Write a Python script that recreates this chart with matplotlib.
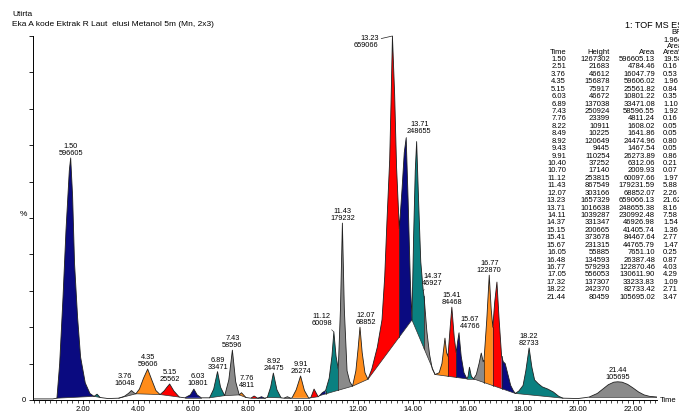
import numpy as np
import matplotlib.pyplot as plt
from matplotlib.ticker import MultipleLocator

plt.rcParams['font.family'] = ['Liberation Sans', 'DejaVu Sans']

# chromatogram trace: retention time (min), intensity (%)
trace_t = [0.18, 0.9, 1.05, 1.15, 1.27, 1.38, 1.5, 1.55, 1.62, 1.69, 1.8, 1.91, 2.08, 2.25, 2.4,
           2.51, 2.62, 2.9, 3.3, 3.5, 3.65, 3.76, 3.85, 3.92, 4.05, 4.2, 4.35, 4.5, 4.65, 4.8,
           4.95, 5.05, 5.15, 5.3, 5.5, 5.7, 5.9, 6.03, 6.15, 6.3, 6.6, 6.75, 6.89, 7.0, 7.15,
           7.3, 7.43, 7.55, 7.68, 7.76, 7.92, 8.1, 8.22, 8.35, 8.49, 8.6, 8.7, 8.82, 8.92, 9.05,
           9.2, 9.3, 9.43, 9.55, 9.6, 9.75, 9.91, 10.05, 10.2, 10.28, 10.4, 10.55, 10.6, 10.7,
           10.82, 10.95, 11.05, 11.12, 11.2, 11.28, 11.36, 11.43, 11.5, 11.6, 11.7, 11.8, 11.92,
           12.0, 12.07, 12.15, 12.25, 12.36, 12.5, 12.7, 12.87, 12.97, 13.05, 13.15, 13.2, 13.25,
           13.33, 13.4, 13.5, 13.6, 13.68, 13.75, 13.82, 13.9, 13.96, 14.02, 14.08, 14.13, 14.2,
           14.28, 14.37, 14.4, 14.5, 14.6, 14.7, 14.8, 14.95, 15.05, 15.16, 15.22, 15.27, 15.35,
           15.41, 15.5, 15.57, 15.62, 15.67, 15.75, 15.85, 15.96, 16.0, 16.05, 16.12, 16.2, 16.3,
           16.4, 16.48, 16.55, 16.58, 16.68, 16.77, 16.84, 16.9, 16.97, 17.05, 17.13, 17.22,
           17.28, 17.35, 17.45, 17.55, 17.65, 17.72, 17.85, 18.0, 18.1, 18.22, 18.32, 18.42,
           18.55, 18.7, 18.9, 19.1, 19.3, 19.45, 20.0, 20.4, 20.7, 20.9, 21.1, 21.3, 21.44, 21.6,
           21.8, 22.0, 22.2, 22.4, 22.6, 22.9]
trace_y = [0.3, 0.3, 0.5, 10, 28, 46.7, 63, 66.5, 56, 37.6, 22.8, 11.8, 4.7, 1.8, 1.0,
           1.6, 0.7, 0.4, 0.5, 1.0, 1.8, 2.6, 2.0, 1.7, 3.0, 6.0, 8.5, 5.5, 2.6, 1.5,
           2.5, 3.5, 4.4, 2.5, 0.8, 0.6, 1.4, 3.0, 1.4, 0.6, 0.6, 3.0, 7.8, 3.5, 1.2,
           5.5, 13.7, 5.0, 1.4, 2.0, 0.7, 0.5, 1.1, 0.5, 0.9, 0.5, 0.7, 3.5, 7.4, 2.8,
           0.6, 0.5, 0.9, 0.5, 0.6, 2.8, 6.6, 2.6, 0.6, 0.6, 3.0, 0.9, 1.2, 2.0,
           2.6, 6.0, 12, 18.7, 12, 8.5, 25, 48.6, 25, 8, 5, 3.8, 8,
           14, 20, 13, 7.5, 5.7, 8.5, 14.5, 22, 34, 49, 66, 82, 100,
           84, 64, 47, 58, 68, 72, 55, 33, 22, 45, 63, 71, 55,
           38, 30, 28.5, 19, 12.5, 8.5, 7.0, 7.5, 10, 17, 13, 12, 20,
           25.5, 17, 13, 16, 18.4, 12, 7.5, 5.8, 6.5, 9.0, 6.5, 5.8, 7,
           10, 12.9, 10.5, 11, 22, 34.3, 25, 20, 27, 32.4, 22, 12,
           10.5, 10, 7, 4, 2.5, 1.8, 2.5, 4, 8, 14.3, 9, 5.5,
           4.5, 3.6, 3.0, 2.2, 1.0, 0.5, 0.4, 0.8, 1.8, 3.0, 4.2, 4.9, 5.0, 4.9,
           4.3, 3.3, 2.2, 1.4, 1.0, 0.8]

# peak table
peak_time = ['1.50', '2.51', '3.76', '4.35', '5.15', '6.03', '6.89', '7.43', '7.76', '8.22', '8.49',
             '8.92', '9.43', '9.91', '10.40', '10.70', '11.12', '11.43', '12.07', '13.23', '13.71',
             '14.11', '14.37', '15.15', '15.41', '15.67', '16.05', '16.48', '16.77', '17.05',
             '17.32', '18.22', '21.44']
peak_height = [1267302, 21683, 46612, 156878, 75917, 46672, 137038, 250924, 23399, 10911, 10225,
               120649, 9445, 110254, 37252, 17140, 253815, 867549, 303166, 1657329, 1016638,
               1039287, 331347, 200665, 373678, 231315, 55885, 134593, 579293, 556053, 137307,
               242370, 80459]
peak_area = [596605.13, 4784.46, 16047.79, 59606.02, 25561.82, 10801.22, 33471.08, 58596.55,
             4811.24, 1608.02, 1641.86, 24474.96, 1467.54, 26273.89, 6312.06, 2009.93, 60097.66,
             179231.59, 68852.07, 659066.13, 248655.38, 230992.48, 46926.98, 41405.74, 84467.64,
             44765.79, 7651.10, 26387.48, 122870.46, 130611.90, 33233.83, 82733.42, 105695.02]

# integration limits of each peak
seg_start = [1.05, 2.4, 3.3, 3.92, 4.8, 5.7, 6.6, 7.15, 7.68, 8.1, 8.35, 8.7, 9.3, 9.6, 10.28,
             10.6, 10.82, 11.28, 11.8, 12.36, 13.5, 13.96, 14.4, 14.8, 15.27, 15.57, 15.96, 16.2,
             16.58, 16.9, 17.22, 17.72, 20.4]
seg_end = [2.4, 2.62, 3.92, 4.8, 5.5, 6.3, 7.15, 7.68, 7.92, 8.35, 8.6, 9.2, 9.55, 10.2, 10.55,
           10.82, 11.28, 11.8, 12.36, 13.5, 13.96, 14.4, 14.8, 15.27, 15.57, 15.96, 16.2, 16.58,
           16.9, 17.22, 17.72, 19.45, 22.9]
# points where the integration baseline meets the trace
baseline_touch = [1.05, 2.4, 2.62, 3.3, 3.92, 4.8, 5.5, 5.7, 6.3, 6.6, 7.15, 7.68, 7.92, 8.1,
                  8.35, 8.6, 8.7, 9.2, 9.3, 9.55, 9.6, 10.2, 10.28, 10.55, 10.6, 11.8, 12.36,
                  13.96, 14.8, 15.96, 16.2, 17.72, 19.45, 20.4, 22.9]

# peaks that carry a label on the trace: time, area
label_time = ['1.50', '3.76', '4.35', '5.15', '6.03', '6.89', '7.43', '7.76', '8.92', '9.91',
              '11.12', '11.43', '12.07', '13.23', '13.71', '14.37', '15.41', '15.67', '16.77',
              '18.22', '21.44']
label_area = ['596605', '16048', '59606', '25562', '10801', '33471', '58596', '4811', '24475',
              '26274', '60098', '179232', '68852', '659066', '248655', '46927', '84468', '44766',
              '122870', '82733', '105695']

colors = ['#0a0a80', '#0a8080', '#8a8a8a', '#ff8c1a', '#ff0000']
# label offsets in pixels (dx, dy), leader line on/off
label_off = {'3.76': (-7, 4, False), '6.03': (4, 2, False), '7.76': (5, 4, False),
             '11.12': (-12, 5, True), '12.07': (6, 1, False), '13.23': (-14, -6, True),
             '13.71': (13, 3, True), '14.37': (9, 4, True), '15.67': (11, 3, True)}

fig = plt.figure(figsize=(6.79, 4.13), dpi=100)
W, H = 679, 413
ax = fig.add_axes([33 / W, 13 / H, 624 / W, 364 / H])
ax.set_xlim(0.18, 22.87)
ax.set_ylim(0, 100)

tt = np.array(trace_t)
ty = np.array(trace_y)
def tr(x):
    return np.interp(x, tt, ty)
touch_y = tr(np.array(baseline_touch))
def bl(x):
    return np.interp(x, baseline_touch, touch_y)

for i, (s, e) in enumerate(zip(seg_start, seg_end)):
    inside = tt[(tt > s) & (tt < e)]
    xs = np.concatenate([[s], inside, [e]])
    ys = tr(xs)
    px = list(xs) + [e, s]
    py = list(ys) + [bl(e), bl(s)]
    ax.fill(px, py, color=colors[i % 5], lw=0, zorder=2)
    ax.plot([s, e], [bl(s), bl(e)], color='#303030', lw=0.5, zorder=3)

drops = sorted(set(seg_start + seg_end) - set(baseline_touch))
for d in drops:
    ax.plot([d, d], [bl(d), tr(d)], color='#202020', lw=0.5, zorder=3)

ax.plot(tt, ty, color='#202020', lw=0.6, zorder=4)

for lt, la in zip(label_time, label_area):
    t0 = float(lt)
    win = (tt >= t0 - 0.06) & (tt <= t0 + 0.06)
    k = np.argmax(np.where(win, ty, -1))
    dx, dy, lead = label_off.get(lt, (0, 1, False))
    if lt == '13.23':
        ax.annotate(lt + '\n' + la, xy=(tt[k], ty[k]), xytext=(dx, dy),
                    textcoords='offset pixels', ha='right', va='center', fontsize=5.3,
                    linespacing=0.95, annotation_clip=False,
                    arrowprops=dict(arrowstyle='-', lw=0.5, color='#202020',
                                    shrinkA=0, shrinkB=0))
    else:
        ax.annotate(lt + '\n' + la, xy=(tt[k], ty[k]), xytext=(dx, dy),
                    textcoords='offset pixels', ha='center', va='bottom', fontsize=5.3,
                    linespacing=0.95, annotation_clip=False,
                    arrowprops=dict(arrowstyle='-', lw=0.4, color='#202020',
                                    shrinkA=0, shrinkB=0) if lead else None)

for sp in ['top', 'right']:
    ax.spines[sp].set_visible(False)
ax.spines['left'].set_linewidth(0.7)
ax.spines['bottom'].set_linewidth(0.7)
ax.set_xticks(np.arange(2, 23, 2))
ax.set_xticklabels(['%.2f' % v for v in np.arange(2, 23, 2)])
ax.xaxis.set_minor_locator(MultipleLocator(0.2))
ax.tick_params(axis='x', which='major', length=3, width=0.6, labelsize=5.5, pad=1)
ax.tick_params(axis='x', which='minor', length=1.8, width=0.5)
ax.set_yticks(np.arange(0, 101, 10))
ax.set_yticklabels(['0'] + [''] * 10)
ax.tick_params(axis='y', length=3, width=0.6, labelsize=5.5, pad=2)

def ft(x, y, s, **kw):
    kw.setdefault('fontsize', 5.5)
    fig.text(x / W, 1 - y / H, s, va='center', **kw)

ft(12, 15, 'Utirta', fontsize=6)
ft(12, 25, 'Eka A kode Ektrak R Laut  elusi Metanol 5m (Mn, 2x3)', fontsize=6)
ft(625, 25, '1: TOF MS ES+', fontsize=6.5)
ft(671, 33, 'BPI')
ft(663, 40, '1.96e6')
ft(667, 46, 'Area')
ft(20, 215, '%', fontsize=6)
ft(660, 400, 'Time')

ft(566, 52, 'Time', ha='right')
ft(610, 52, 'Height', ha='right')
ft(655, 52, 'Area', ha='right')
ft(663, 52, 'Area%', ha='left')
total = sum(peak_area)
for i in range(len(peak_time)):
    y = 59.5 + i * 7.43
    ft(566, y, peak_time[i], ha='right')
    ft(610, y, str(peak_height[i]), ha='right')
    ft(655, y, '%.2f' % peak_area[i], ha='right')
    ft(663, y, '%.2f' % (peak_area[i] / total * 100), ha='left')

fig.savefig('out.png', dpi=100)
